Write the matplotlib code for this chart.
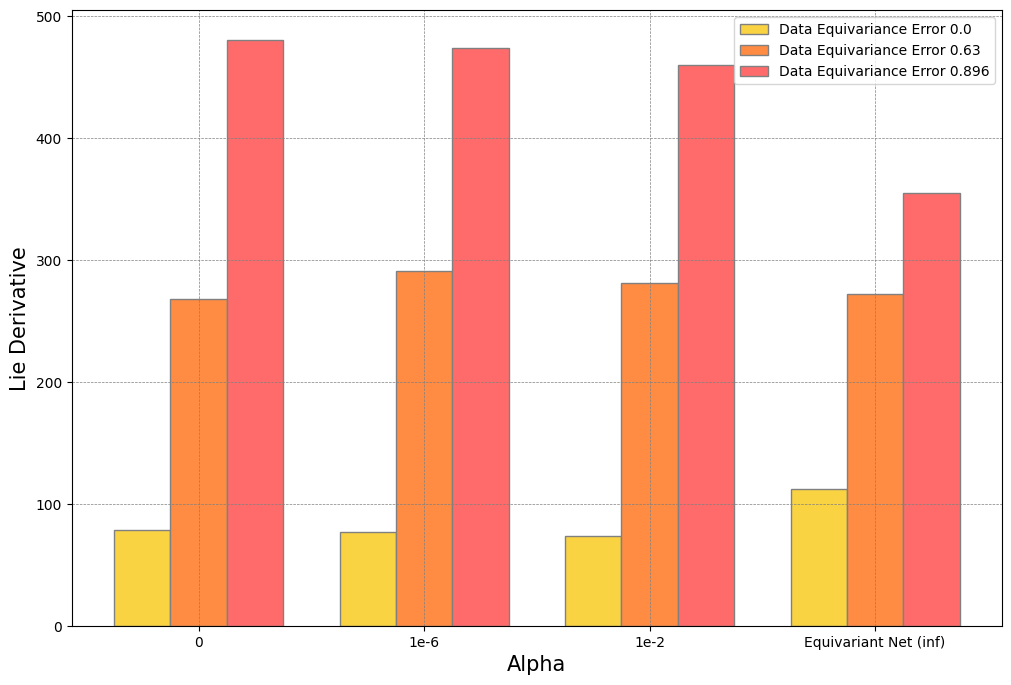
import matplotlib.pyplot as plt
import numpy as np

# Lie derivative per alpha setting and data equivariance error
alphas = ['0', '1e-6', '1e-2', 'Equivariant Net (inf)']
err_labels = ['Data Equivariance Error 0.0',
              'Data Equivariance Error 0.63',
              'Data Equivariance Error 0.896']
lie_err_0 = [79, 77, 74, 112.5]
lie_err_063 = [268, 291, 281, 272]
lie_err_0896 = [481, 474, 460, 355]

colors = ['#F9D342', '#FF8C42', '#FF6B6B']

fig, ax = plt.subplots(figsize=(10.11, 6.85), dpi=100)
fig.subplots_adjust(left=0.071, right=0.991, top=0.985, bottom=0.086)

bar_width = 0.25
x = np.arange(len(alphas))
series = [lie_err_0, lie_err_063, lie_err_0896]
for i, vals in enumerate(series):
    ax.bar(x + (i - 1) * bar_width, vals, width=bar_width, color=colors[i],
           edgecolor='grey', label=err_labels[i])

ax.set_xticks(x)
ax.set_xticklabels(alphas)
ax.set_xlabel('Alpha', fontsize=15)
ax.set_ylabel('Lie Derivative', fontsize=15)
ax.grid(True, linestyle='--', linewidth=0.5, color='grey')
ax.legend(loc='upper right')

fig.savefig('out.png')
